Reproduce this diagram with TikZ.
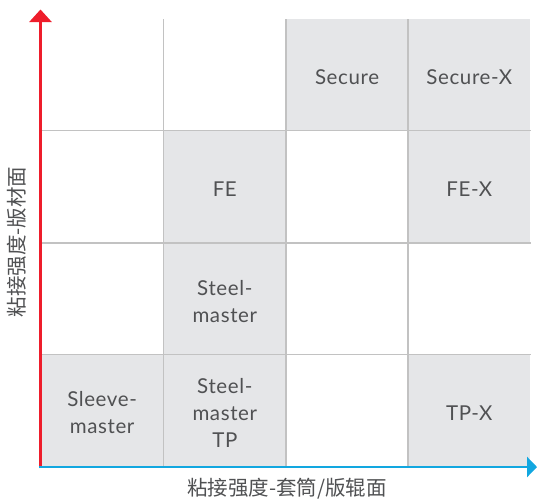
\documentclass[tikz,border=0pt]{standalone}
\usepackage{fontspec}
\setmainfont{Lato}[LetterSpace=3]
\newfontfamily\cjk{Noto Sans CJK SC}
\usepackage{xcolor}
\usepackage{tikz}
\usetikzlibrary{arrows.meta,positioning,calc}

\definecolor{cellgray}{HTML}{E5E6E8}
\definecolor{linegray}{HTML}{C2C2C2}
\definecolor{txtgray}{HTML}{505153}
\definecolor{axisred}{HTML}{EE1D2B}
\definecolor{axisblue}{HTML}{12A7E0}

\tikzset{
  cell/.style={fill=cellgray, minimum width=122.25pt, minimum height=111.9pt,
    inner sep=0pt},
  celltext/.style={align=center, text=txtgray, inner sep=0pt, yshift=-2.5pt,
    font=\fontsize{20.5}{27}\selectfont},
  gridline/.style={draw=linegray, line width=1.5pt},
  axislabel/.style={text=txtgray, font=\cjk\fontsize{20.5}{24}\selectfont}
}

\begin{document}
\begin{tikzpicture}[x=1pt,y=-1pt]
            \useasboundingbox (0,0) rectangle (537,501);
            % filled cells
            \node[cell] (secure)  at (347.1,74.8)  {};
            \node[cell] (securex) at (469.3,74.8)  {};
            \node[cell] (fe)      at (224.8,186.7) {};
            \node[cell] (fex)     at (469.3,186.7) {};
            \node[cell] (steel)   at (224.8,298.6) {};
            \node[cell] (sleeve)  at (102.1,410.5) {};
            \node[cell] (steeltp) at (224.8,410.5) {};
            \node[cell] (tpx)     at (469.3,410.5) {};
            % cell texts
            \node[celltext] (securetxt)  at (secure)  {Secure};
            \node[celltext] (securextxt) at (securex) {Secure-X};
            \node[celltext] (fetxt)      at (fe)      {FE};
            \node[celltext] (fextxt)     at (fex)     {FE-X};
            \node[celltext] (steeltxt)   at (steel)   {Steel-\\master};
            \node[celltext] (sleevetxt)  at (sleeve)  {Sleeve-\\master};
            \node[celltext] (steeltptxt) at (steeltp) {Steel-\\master\\TP};
            \node[celltext] (tpxtxt)     at (tpx)     {TP-X};
            % grid
            \draw[gridline] (163.5,19) -- (163.5,466.5);
            \draw[gridline] (286,19) -- (286,466.5);
            \draw[gridline] (408.2,19) -- (408.2,466.5);
            \draw[gridline] (41,130.5) -- (530.5,130.5);
            \draw[gridline] (41,242.8) -- (530.5,242.8);
            \draw[gridline] (41,354.7) -- (530.5,354.7);
            % axes
            \coordinate (origin) at (40.5,467);
            \coordinate (ytip) at (40.5,9.5);
            \coordinate (xtip) at (537,467);
            \draw[axisred, line width=2.6pt, -{Triangle[length=12.5pt,width=22pt]}] ($(origin)+(0,1.3)$) -- (ytip);
            \draw[axisblue, line width=2.6pt, -{Triangle[length=10pt,width=20pt]}] ($(origin)+(-1.3,0)$) -- (xtip);
            \node[axislabel, rotate=90] (ylabel) at (17,242) {粘接强度-版材面};
            \node[axislabel] (xlabel) at (287,489) {粘接强度-套筒/版辊面};
        \end{tikzpicture}
\end{document}
